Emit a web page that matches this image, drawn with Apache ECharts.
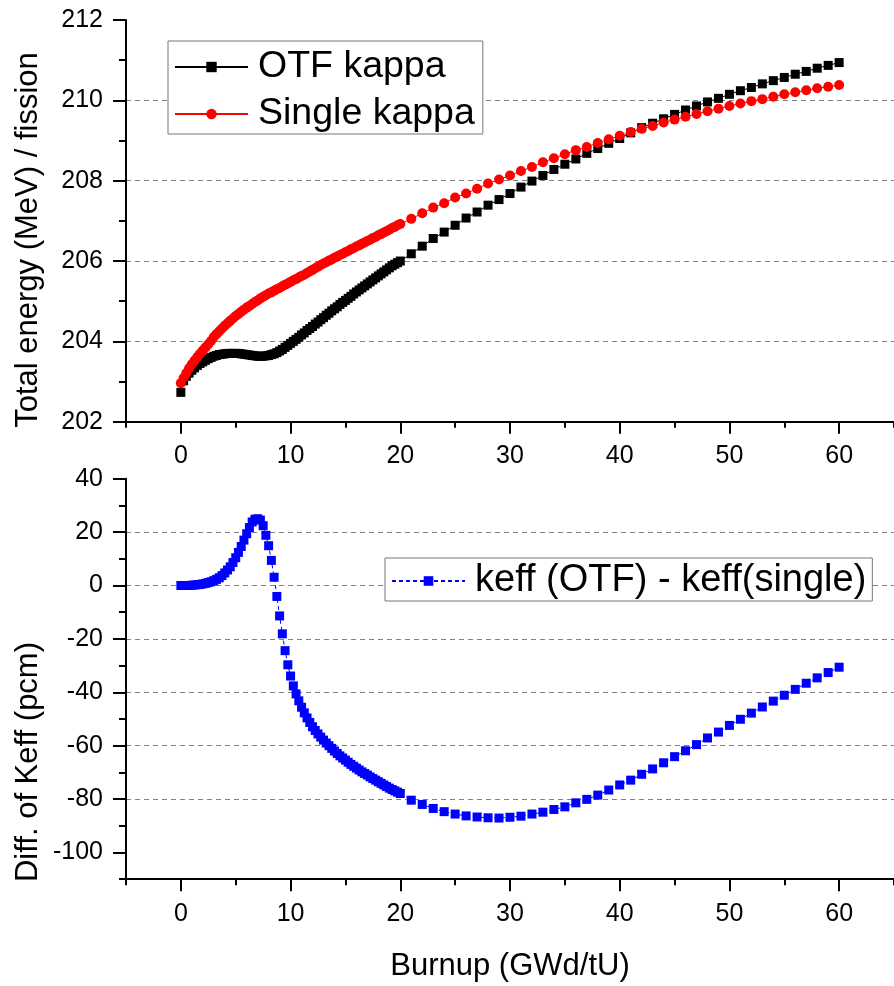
<!DOCTYPE html>
<html><head><meta charset="utf-8">
<script src="https://cdn.jsdelivr.net/npm/echarts@6/dist/echarts.min.js"></script>
<style>html,body{margin:0;padding:0;background:#fff}#c{width:894px;height:986px}</style>
</head><body><div id="c"></div>
<script>
const burnup = [0,0.25,0.5,0.75,1,1.25,1.5,1.75,2,2.25,2.5,2.75,3,3.25,3.5,3.75,4,4.25,4.5,4.75,
5,5.25,5.5,5.75,6,6.25,6.5,6.75,7,7.25,7.5,7.75,8,8.25,8.5,8.75,9,9.25,9.5,9.75,
10,10.25,10.5,10.75,11,11.25,11.5,11.75,12,12.25,12.5,12.75,13,13.25,13.5,13.75,14,14.25,14.5,14.75,
15,15.25,15.5,15.75,16,16.25,16.5,16.75,17,17.25,17.5,17.75,18,18.25,18.5,18.75,19,19.25,19.5,19.75,
20,21,22,23,24,25,26,27,28,29,30,31,32,33,34,35,36,37,38,39,40,41,42,43,44,45,46,47,48,49,50,
51,52,53,54,55,56,57,58,59,60];
const otfKappa = [202.73,203.02,203.13,203.21,203.28,203.34,203.40,203.45,203.49,203.53,
203.57,203.60,203.63,203.65,203.67,203.68,203.69,203.70,203.70,203.70,
203.70,203.70,203.69,203.68,203.67,203.66,203.65,203.64,203.63,203.63,
203.63,203.64,203.65,203.67,203.69,203.72,203.76,203.80,203.85,203.90,
203.95,204.00,204.05,204.10,204.16,204.21,204.27,204.32,204.37,204.43,
204.48,204.54,204.59,204.65,204.70,204.76,204.81,204.86,204.92,204.97,
205.02,205.07,205.12,205.18,205.23,205.28,205.33,205.38,205.43,205.48,
205.53,205.58,205.63,205.68,205.73,205.78,205.83,205.88,205.92,205.96,
206.00,206.18,206.37,206.56,206.72,206.89,207.07,207.22,207.39,207.53,207.68,
207.84,207.99,208.13,208.28,208.41,208.54,208.68,208.80,208.93,209.05,
209.19,209.32,209.43,209.54,209.65,209.76,209.86,209.96,210.05,210.15,
210.24,210.32,210.41,210.49,210.57,210.65,210.72,210.80,210.87,210.94];
const singleKappa = [202.96,203.09,203.21,203.33,203.43,203.52,203.61,203.69,203.77,203.85,
203.93,204.01,204.11,204.18,204.25,204.32,204.39,204.45,204.51,204.57,
204.63,204.68,204.74,204.79,204.84,204.88,204.93,204.98,205.02,205.07,
205.11,205.15,205.19,205.22,205.26,205.30,205.33,205.37,205.41,205.44,
205.48,205.52,205.55,205.59,205.63,205.66,205.70,205.74,205.78,205.82,
205.86,205.90,205.94,205.97,206.01,206.04,206.08,206.11,206.15,206.18,
206.22,206.25,206.29,206.32,206.36,206.39,206.43,206.46,206.50,206.53,
206.57,206.60,206.64,206.67,206.71,206.74,206.78,206.82,206.85,206.89,
206.92,207.05,207.19,207.33,207.44,207.58,207.68,207.80,207.93,208.03,208.13,
208.24,208.34,208.46,208.56,208.66,208.76,208.84,208.94,209.03,209.12,
209.21,209.29,209.36,209.45,209.52,209.59,209.66,209.73,209.79,209.86,
209.92,209.98,210.03,210.09,210.15,210.20,210.25,210.30,210.34,210.38];
const keffDiff = [0,0,0,0,0.1,0.2,0.3,0.4,0.6,0.8,
1.1,1.4,1.8,2.3,2.9,3.7,4.7,5.8,7.0,8.6,
10.4,12.4,14.6,17.0,19.4,21.7,23.8,24.8,25.0,24.5,
22.4,18.8,14.9,9.4,3.1,-4.1,-11.4,-18.1,-24.4,-29.7,
-33.9,-37.6,-40.6,-43.2,-45.6,-47.7,-49.6,-51.3,-52.9,-54.3,
-55.6,-56.8,-57.9,-59.0,-60.0,-61.0,-62.0,-62.9,-63.8,-64.6,
-65.4,-66.2,-67.0,-67.7,-68.4,-69.1,-69.8,-70.4,-71.0,-71.7,
-72.3,-72.9,-73.5,-74.1,-74.7,-75.3,-75.9,-76.4,-76.9,-77.4,
-77.9,-80.4,-82.0,-83.5,-84.7,-85.6,-86.3,-86.7,-87.0,-87.1,-86.8,
-86.4,-85.6,-84.9,-83.9,-82.9,-81.4,-80.1,-78.5,-76.6,-74.7,
-72.9,-70.7,-68.7,-66.4,-64.1,-61.9,-59.6,-57.1,-54.9,-52.4,
-50.1,-47.8,-45.5,-43.3,-41.1,-38.9,-36.6,-34.6,-32.6,-30.6];
const xMajorTicks = [0,10,20,30,40,50,60];
const xMinorTicks = [-5,5,15,25,35,45,55,65];
const yBotMajor = [-100,-80,-60,-40,-20,0,20,40];
const yBotMinor = [-110,-90,-70,-50,-30,-10,10,30];
const seriesNames = ['OTF kappa','Single kappa','keff (OTF) - keff(single)'];
const yTitles = ['Total energy (MeV) / fission','Diff. of Keff (pcm)'];
const xTitle = 'Burnup (GWd/tU)';

const FONT = '"Liberation Sans", Arial, sans-serif';
const pairs = (ys) => burnup.map((x,i)=>[x, ys[i]]);
const axisLineStyle = {color:'#000', width:2};
const grid = [
  {left:126, top:20, right:-4, height:401.7},
  {left:126, top:478.7, right:-4, height:400.5}
];
function xMain(g, withName){
  return {type:'value', gridIndex:g, min:-5, max:65, position:'bottom',
    name: withName ? xTitle : '', nameLocation:'middle', nameGap:72,
    nameTextStyle:{fontSize:31, fontFamily:FONT, color:'#000'},
    axisLine:{show:true, onZero:false, lineStyle:axisLineStyle},
    axisTick:{show:true, inside:false, length:12, customValues:xMajorTicks, lineStyle:axisLineStyle},
    axisLabel:{show:true, customValues:xMajorTicks, fontSize:25, fontFamily:FONT, color:'#000', margin:22},
    splitLine:{show:false}};
}
function xMinor(g){
  return {type:'value', gridIndex:g, min:-5, max:65, position:'bottom',
    axisLine:{show:false, onZero:false}, axisTick:{show:true, length:6, customValues:xMinorTicks, lineStyle:axisLineStyle},
    axisLabel:{show:false}, splitLine:{show:false}};
}
const dashed = {show:true, showMinLine:false, showMaxLine:false, lineStyle:{color:'#808080', type:[5,4], width:1}};
const option = {
  animation:false,
  backgroundColor:'#fff',
  grid: grid,
  xAxis:[xMain(0,false), xMinor(0), xMain(1,true), xMinor(1)],
  yAxis:[
    {type:'value', gridIndex:0, min:202, max:212, interval:2, position:'left',
     axisLine:{show:true, onZero:false, lineStyle:axisLineStyle},
     axisTick:{show:true, length:13, lineStyle:axisLineStyle},
     minorTick:{show:true, splitNumber:2, length:7, lineStyle:axisLineStyle},
     axisLabel:{fontSize:25, fontFamily:FONT, color:'#000', margin:23},
     splitLine:dashed},
    {type:'value', gridIndex:1, min:-110, max:40, position:'left',
     axisLine:{show:true, onZero:false, lineStyle:axisLineStyle},
     axisTick:{show:true, length:13, customValues:yBotMajor, lineStyle:axisLineStyle},
     axisLabel:{customValues:yBotMajor, fontSize:25, fontFamily:FONT, color:'#000', margin:23},
     splitLine:dashed},
    {type:'value', gridIndex:1, min:-110, max:40, position:'left',
     axisLine:{show:false, onZero:false},
     axisTick:{show:true, length:7, customValues:yBotMinor, lineStyle:axisLineStyle},
     axisLabel:{show:false}, splitLine:{show:false}}
  ],
  legend:[
    {data:[seriesNames[0], seriesNames[1]], orient:'vertical', left:168, top:41,
     padding:[7,8,1,6], itemGap:9, itemWidth:73, itemHeight:13,
     borderColor:'#777', borderWidth:1, backgroundColor:'#fff',
     textStyle:{fontSize:37.5, fontFamily:FONT, color:'#000', padding:[0,0,0,5]}},
    {data:[seriesNames[2]], orient:'horizontal', left:385, top:558,
     padding:[4,6,1,6], itemWidth:73, itemHeight:12,
     borderColor:'#777', borderWidth:1, backgroundColor:'#fff',
     textStyle:{fontSize:38, fontFamily:FONT, color:'#000', padding:[0,0,0,5]}}
  ],
  graphic:[
    {type:'text', x:28, y:240, rotation:Math.PI/2,
     style:{text:yTitles[0], fontSize:31, fontFamily:FONT, fill:'#000', align:'center', verticalAlign:'middle'}},
    {type:'text', x:28, y:762, rotation:Math.PI/2,
     style:{text:yTitles[1], fontSize:31, fontFamily:FONT, fill:'#000', align:'center', verticalAlign:'middle'}}
  ],
  series:[
    {name:seriesNames[0], type:'line', xAxisIndex:0, yAxisIndex:0, data:pairs(otfKappa),
     symbol:'rect', symbolSize:9, showAllSymbol:true, color:'#000',
     itemStyle:{color:'#000'}, lineStyle:{color:'#000', width:1}},
    {name:seriesNames[1], type:'line', xAxisIndex:0, yAxisIndex:0, data:pairs(singleKappa),
     symbol:'circle', symbolSize:10, showAllSymbol:true, color:'#ff0000',
     itemStyle:{color:'#ff0000'}, lineStyle:{color:'#ff0000', width:1}},
    {name:seriesNames[2], type:'line', xAxisIndex:2, yAxisIndex:1, data:pairs(keffDiff),
     symbol:'rect', symbolSize:9, showAllSymbol:true, color:'#0000ff',
     itemStyle:{color:'#0000ff'}, lineStyle:{color:'#0000ff', width:1, type:[4,3]}}
  ]
};
const chart = echarts.init(document.getElementById('c'), null, {renderer:'canvas'});
chart.setOption(option);
</script></body></html>
